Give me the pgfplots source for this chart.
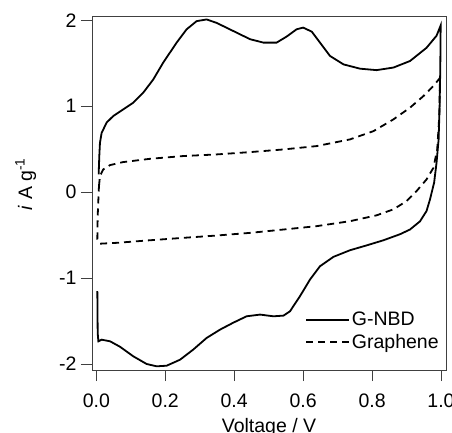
\documentclass[border=0pt]{standalone}
\usepackage{pgfplots}
\pgfplotsset{compat=1.18}
\usepackage{fontspec}
\setmainfont{Liberation Sans}
\begin{document}
\begin{tikzpicture}
\begin{axis}[
  scale only axis, width=354pt, height=354pt,
  xmin=-0.0125, xmax=1.0145, ymin=-2.07, ymax=2.05,
  axis line style={black!75, line width=0.8pt},
  xtick={0,0.2,0.4,0.6,0.8,1.0},
  xticklabels={0.0,0.2,0.4,0.6,0.8,1.0},
  ytick={-2,-1,0,1,2},
  yticklabels={-2,-1,0,1,2},
  tick align=outside, xtick pos=bottom, ytick pos=left,
  major tick length=11pt,
  tick style={black!75, line width=0.8pt},
  tick label style={font=\fontsize{19.5}{23}\selectfont},
  label style={font=\fontsize{19.5}{23}\selectfont},
  xticklabel style={yshift=-9pt},
  yticklabel style={xshift=-1pt},
  xlabel={Voltage / V},
  xlabel style={yshift=-4pt},
  ylabel={\textit{i} A g\textsuperscript{-1}},
  ylabel style={yshift=16pt, xshift=9pt},
  legend style={at={(rel axis cs:0.593,0.175)}, anchor=north west, draw=none, fill=none,
    font=\fontsize{19.5}{23}\selectfont, row sep=3pt},
  legend cell align=left,
  legend image code/.code={\draw[#1] (0pt,0pt) -- (35pt,0pt); \path (0pt,0pt) -- (43pt,0pt);},
]
\addplot[black, line width=1.8pt] coordinates {
(0.0068,0.206) (0.0087,0.42) (0.0106,0.575) (0.0155,0.69) (0.030,0.81)
(0.049,0.885) (0.078,0.963) (0.107,1.04) (0.136,1.157) (0.165,1.31)
(0.194,1.507) (0.233,1.74) (0.262,1.895) (0.291,1.99) (0.320,2.01)
(0.349,1.97) (0.397,1.876) (0.446,1.78) (0.485,1.74) (0.523,1.74)
(0.552,1.81) (0.581,1.895) (0.600,1.915) (0.625,1.868) (0.649,1.74)
(0.678,1.585) (0.717,1.487) (0.765,1.437) (0.813,1.42) (0.862,1.45)
(0.910,1.526) (0.958,1.68) (0.987,1.82) (0.999,1.94)
(0.998,1.47) (0.996,1.0) (0.993,0.61) (0.987,0.34) (0.980,0.11)
(0.968,-0.085) (0.958,-0.22) (0.939,-0.34) (0.910,-0.435) (0.881,-0.49)
(0.833,-0.56) (0.784,-0.62) (0.736,-0.676) (0.688,-0.753) (0.649,-0.862)
(0.620,-1.017) (0.591,-1.21) (0.562,-1.386) (0.543,-1.437) (0.514,-1.445)
(0.475,-1.425) (0.436,-1.445) (0.397,-1.52) (0.359,-1.60) (0.320,-1.697)
(0.281,-1.833) (0.243,-1.95) (0.204,-2.02) (0.175,-2.027) (0.146,-2.0)
(0.107,-1.91) (0.069,-1.80) (0.040,-1.736) (0.0155,-1.717) (0.006,-1.736)
(0.004,-1.64) (0.003,-1.153)
};
\addlegendentry{G-NBD}
\addplot[black, line width=1.8pt, dash pattern=on 7pt off 5pt] coordinates {
(0.0077,0.07) (0.0106,0.186) (0.020,0.264) (0.040,0.315) (0.078,0.35)
(0.156,0.388) (0.252,0.42) (0.349,0.439) (0.446,0.466) (0.543,0.497)
(0.639,0.536) (0.736,0.614) (0.804,0.71) (0.862,0.847) (0.910,0.983)
(0.949,1.118) (0.978,1.235) (0.997,1.33)
(0.995,0.885) (0.989,0.497) (0.978,0.283) (0.958,0.148) (0.929,0.012)
(0.900,-0.105) (0.862,-0.2) (0.813,-0.27) (0.736,-0.338) (0.639,-0.396)
(0.543,-0.435) (0.446,-0.474) (0.349,-0.505) (0.252,-0.532) (0.156,-0.56)
(0.059,-0.59) (0.0106,-0.60) (0.003,-0.545) (0.004,-0.28) (0.006,-0.085)
(0.0077,0.07)
};
\addlegendentry{Graphene}
\end{axis}
\pgfresetboundingbox
\useasboundingbox ([shift={(-92pt,-62pt)}]current axis.south west) rectangle ([shift={(6pt,16pt)}]current axis.north east);
\end{tikzpicture}
\end{document}
